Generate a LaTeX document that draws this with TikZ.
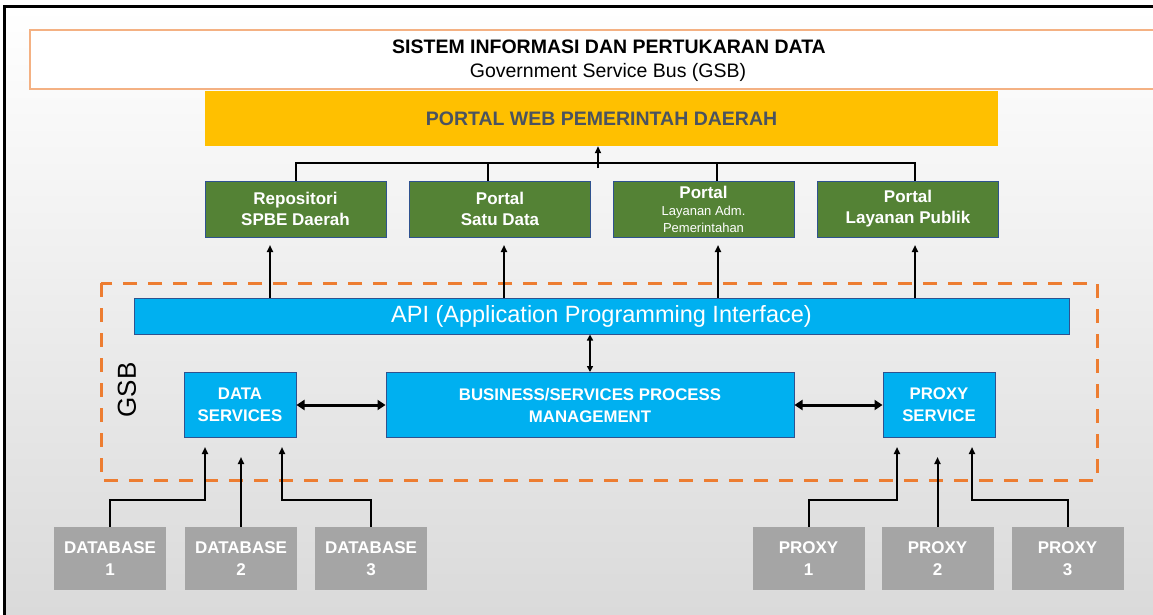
\documentclass[tikz,border=0pt]{standalone}
\usepackage{fontspec}
\setmainfont{Liberation Sans}
\usetikzlibrary{arrows.meta}

\definecolor{portalgreen}{HTML}{548235}
\definecolor{apiblue}{HTML}{00B0F0}
\definecolor{boxline}{HTML}{2F528F}
\definecolor{srcgray}{HTML}{A5A5A5}
\definecolor{gsborange}{HTML}{ED7D31}
\definecolor{titleline}{HTML}{F4B183}
\definecolor{portalyellow}{HTML}{FFC000}
\definecolor{portaltext}{HTML}{4A5360}
\definecolor{bggray}{HTML}{DADADA}

\begin{document}
\begin{tikzpicture}[x=1pt, y=-1pt]

    \tikzstyle{portalbox}=[draw=boxline, line width=1pt, fill=portalgreen, text=white, align=center, inner sep=0pt, minimum width=181pt, minimum height=56pt, font=\bfseries\fontsize{17}{21}\selectfont];
    \tikzstyle{svcbox}=[draw=boxline, line width=1pt, fill=apiblue, text=white, align=center, inner sep=0pt, minimum height=65pt, font=\bfseries\fontsize{16.8}{22}\selectfont];
    \tikzstyle{srcbox}=[fill=srcgray, text=white, align=center, inner sep=0pt, minimum width=112pt, minimum height=63pt, font=\bfseries\fontsize{17}{22}\selectfont];
    \tikzstyle{wire}=[line width=2pt];
    \tikzstyle{up}=[line width=2pt, -{Triangle[length=7pt, width=6pt]}];
    \tikzstyle{both}=[line width=3pt, {Triangle[length=8pt, width=10pt]}-{Triangle[length=8pt, width=10pt]}];

    \useasboundingbox (0,0) rectangle (1153,615);

    % background and frame
    \shade[top color=white, middle color=white!70!bggray, bottom color=bggray] (4,7) rectangle (1153,615);
    \draw[line width=3pt] (4,615) -- (4,7) -- (1156,7);

    % title
    \draw[titleline, line width=1.5pt, fill=white] (30,30) rectangle (1158,89);
    \node (title) at (609,47) [font=\bfseries\fontsize{19.5}{21}\selectfont] {SISTEM INFORMASI DAN PERTUKARAN DATA};
    \node (subtitle) at (608,72) [font=\fontsize{19.5}{21}\selectfont] {Government Service Bus (GSB)};

    \node[fill=portalyellow, inner sep=0pt, minimum width=793pt, minimum height=55pt, text=portaltext, font=\bfseries\fontsize{19.5}{21}\selectfont] (portal) at (601.5,118.5) {PORTAL WEB PEMERINTAH DAERAH};

    \node[portalbox] (g1) at (295.5,209) {Repositori\\SPBE Daerah};
    \node[portalbox] (g2) at (500,209)   {Portal\\Satu Data};
    \node[portalbox] (g3) at (703.5,209) {Portal\\[-4pt]{\mdseries\fontsize{13}{16}\selectfont Layanan Adm.}\\[-4pt]{\mdseries\fontsize{13}{16}\selectfont Pemerintahan}};
    \node[portalbox] (g4) at (908,209)   {Portal\\Layanan Publik};

    % GSB
    \draw[gsborange, line width=3pt, dash pattern=on 14pt off 11pt] (101,283) rectangle (1097,480);
    \node (gsb) at (127,390) [rotate=90, font=\fontsize{26}{28}\selectfont] {GSB};

    \node[draw=boxline, line width=1pt, fill=apiblue, text=white, inner sep=0pt, minimum width=935pt, minimum height=36pt, font=\fontsize{23.5}{26}\selectfont] (api) at (601.5,316) {API (Application Programming Interface)};

    \node[svcbox, minimum width=112pt] (ds)  at (240,405) {DATA\\SERVICES};
    \node[svcbox, minimum width=408pt] (bpm) at (590,405) {BUSINESS/SERVICES PROCESS\\MANAGEMENT};
    \node[svcbox, minimum width=112pt] (px)  at (939,405) {PROXY\\SERVICE};

    \node[srcbox] (db1) at (110,558.5)  {DATABASE\\1};
    \node[srcbox] (db2) at (241,558.5)  {DATABASE\\2};
    \node[srcbox] (db3) at (371,558.5)  {DATABASE\\3};
    \node[srcbox] (pr1) at (808.5,558.5)  {PROXY\\1};
    \node[srcbox] (pr2) at (937.5,558.5)  {PROXY\\2};
    \node[srcbox] (pr3) at (1067.5,558.5) {PROXY\\3};

    % bus to portal
    \coordinate (b0) at (598,168);
    \coordinate (b2) at (488,163);
    \coordinate (b3) at (717,163);
    \coordinate (b4) at (915,163);
    \draw[wire] (g1.north) |- (b4) -- (b4 |- g4.north);
    \draw[wire] (b2) -- (b2 |- g2.north);
    \draw[wire] (b3) -- (b3 |- g3.north);
    \draw[up] (b0) -- (b0 |- portal.south);

    % api to portals
    \coordinate (a1) at (270,245);
    \coordinate (a2) at (504,245);
    \coordinate (a3) at (718,245);
    \coordinate (a4) at (915,245);
    \draw[up] (api.north -| a1) -- (a1);
    \draw[up] (api.north -| a2) -- (a2);
    \draw[up] (api.north -| a3) -- (a3);
    \draw[up] (api.north -| a4) -- (a4);

    \draw[line width=2pt, {Triangle[length=6pt, width=6pt]}-{Triangle[length=6pt, width=6pt]}] (api.south -| bpm.north) -- (bpm.north);
    \draw[both] (ds.east) -- (bpm.west);
    \draw[both] (bpm.east) -- (px.west);

    % sources
    \coordinate (d1) at (205,447);
    \coordinate (d2) at (241,457);
    \coordinate (d3) at (282,447);
    \coordinate (p1) at (897,447);
    \coordinate (p2) at (937.5,457);
    \coordinate (p3) at (972,447);
    \draw[up] (db1.north) -- ++(0,-27) -| (d1);
    \draw[up] (db2.north) -- (d2);
    \draw[up] (db3.north) -- ++(0,-27) -| (d3);
    \draw[up] (pr1.north) -- ++(0,-27) -| (p1);
    \draw[up] (pr2.north) -- (p2);
    \draw[up] (pr3.north) -- ++(0,-27) -| (p3);

\end{tikzpicture}
\end{document}
